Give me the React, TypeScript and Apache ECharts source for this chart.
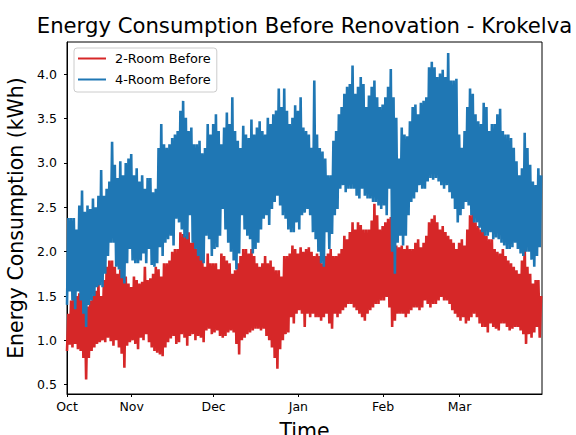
import React, { useEffect, useRef } from 'react';
import * as echarts from 'echarts';

const TITLE = 'Energy Consumption Before Renovation - Krokelva';
const SERIES_NAMES = ['2-Room Before', '4-Room Before'];
const MONTH_LABELS = ['Oct', 'Nov', 'Dec', 'Jan', 'Feb', 'Mar'];
const MONTH_TICKS = [
  Date.UTC(2022, 9, 8, 8),
  Date.UTC(2022, 10, 1),
  Date.UTC(2022, 11, 1),
  Date.UTC(2023, 0, 1),
  Date.UTC(2023, 1, 1),
  Date.UTC(2023, 2, 1),
];
const Y_TICKS = [0.5, 1.0, 1.5, 2.0, 2.5, 3.0, 3.5, 4.0];
const START = Date.UTC(2022, 9, 8, 8);
const X_MAX = Date.UTC(2023, 2, 31, 4);
const DAY = 86400000;

// Daily high / low readings, 2-Room (red)
const roomTwoHigh = [
  1.30, 1.45, 1.55, 1.50, 1.53, 1.48, 1.50, 1.38, 1.45, 1.50,
  1.56, 1.64, 1.50, 1.68, 1.83, 1.90, 1.90, 1.83, 1.75, 1.80,
  1.78, 1.72, 1.64, 1.60, 1.72, 1.68, 1.64, 1.66, 1.83, 1.68,
  1.70, 1.75, 1.83, 1.80, 1.72, 1.87, 1.87, 1.90, 2.00, 2.03,
  2.03, 2.22, 2.20, 2.18, 2.22, 2.10, 2.18, 2.03, 1.98, 1.95,
  1.83, 1.98, 1.87, 1.87, 1.87, 1.80, 1.98, 1.95, 1.90, 1.87,
  1.75, 1.79, 1.87, 1.95, 2.03, 2.03, 1.98, 2.03, 1.95, 1.87,
  1.83, 1.87, 1.95, 1.87, 1.90, 1.83, 1.79, 1.79, 1.72, 1.95,
  1.95, 1.98, 2.07, 2.03, 1.98, 2.05, 2.00, 2.03, 2.05, 2.00,
  1.95, 1.98, 1.95, 1.87, 1.95, 1.98, 2.03, 1.95, 1.95, 1.98,
  2.03, 2.18, 2.14, 2.22, 2.33, 2.25, 2.33, 2.30, 2.25, 2.25,
  2.25, 2.35, 2.54, 2.41, 2.25, 2.29, 2.33, 2.37, 2.39, 2.25,
  2.07, 2.05, 2.07, 2.03, 2.07, 2.03, 2.03, 2.10, 2.14, 2.05,
  2.10, 2.18, 2.33, 2.37, 2.41, 2.33, 2.25, 2.29, 2.22, 2.18,
  2.14, 2.10, 2.03, 2.10, 2.14, 2.07, 2.25, 2.41, 2.44, 2.33,
  2.29, 2.25, 2.25, 2.18, 2.14, 2.14, 2.03, 2.00, 1.98, 2.03,
  1.95, 1.90, 1.87, 1.83, 1.79, 1.75, 1.90, 2.10, 1.83, 1.75,
  1.64, 1.68, 1.68, 1.50,
];
const roomTwoLow = [
  0.88, 0.95, 0.92, 0.96, 0.90, 0.88, 0.80, 0.56, 0.80, 0.88,
  0.92, 0.96, 0.98, 1.00, 0.98, 1.03, 0.99, 0.94, 1.00, 0.92,
  0.85, 0.69, 0.94, 0.98, 1.00, 0.96, 0.90, 1.03, 1.00, 1.07,
  0.98, 0.92, 0.88, 0.86, 0.84, 0.82, 0.92, 0.98, 1.02, 1.05,
  0.96, 0.98, 1.07, 1.03, 0.94, 1.05, 1.07, 1.00, 1.05, 1.03,
  0.98, 1.11, 1.13, 1.07, 1.09, 1.11, 1.05, 1.03, 1.05, 1.09,
  1.11, 1.09, 0.96, 0.84, 1.00, 1.03, 1.07, 1.09, 1.11, 1.13,
  1.13, 1.11, 1.13, 1.05, 1.00, 0.92, 0.80, 0.68, 0.90, 1.00,
  1.07, 1.09, 1.26, 1.19, 1.30, 1.34, 1.30, 1.15, 1.30, 1.26,
  1.30, 1.26, 1.26, 1.22, 1.26, 1.30, 1.19, 1.13, 1.30, 1.26,
  1.30, 1.34, 1.37, 1.41, 1.41, 1.37, 1.34, 1.30, 1.26, 1.22,
  1.30, 1.34, 1.37, 1.41, 1.41, 1.45, 1.45, 1.49, 1.37, 1.15,
  1.22, 1.30, 1.30, 1.30, 1.26, 1.30, 1.34, 1.37, 1.37, 1.34,
  1.37, 1.45, 1.41, 1.37, 1.41, 1.41, 1.45, 1.49, 1.45, 1.45,
  1.41, 1.34, 1.30, 1.26, 1.22, 1.26, 1.19, 1.22, 1.26, 1.30,
  1.26, 1.19, 1.15, 1.15, 1.09, 1.19, 1.15, 1.13, 1.11, 1.19,
  1.19, 1.15, 1.11, 1.13, 1.15, 1.15, 1.11, 1.07, 0.96, 1.07,
  1.03, 1.09, 1.15, 1.03,
];

// Daily high / low readings, 4-Room (blue)
const roomFourHigh = [
  2.38, 2.38, 2.38, 2.25, 2.52, 2.69, 2.45, 2.52, 2.48, 2.60,
  2.50, 2.63, 2.92, 2.63, 2.71, 2.79, 3.24, 2.98, 2.83, 3.02,
  2.86, 3.00, 3.05, 3.10, 2.86, 2.94, 2.79, 2.86, 2.71, 2.83,
  2.83, 2.67, 2.71, 3.17, 3.44, 3.21, 3.17, 3.21, 3.28, 3.32,
  3.36, 3.59, 3.70, 3.51, 3.36, 3.40, 3.21, 3.21, 3.25, 3.11,
  3.17, 3.44, 3.32, 3.44, 3.55, 3.36, 3.21, 3.40, 3.57, 3.44,
  3.74, 3.36, 3.25, 3.17, 3.42, 3.32, 3.28, 3.49, 3.32, 3.40,
  3.47, 3.36, 3.32, 3.51, 3.44, 3.55, 3.59, 3.84, 3.63, 3.84,
  3.59, 3.44, 3.51, 3.65, 3.59, 3.74, 3.40, 3.36, 3.32, 3.17,
  3.93, 3.32, 3.17, 3.13, 3.05, 2.86, 2.86, 3.25, 3.36, 3.55,
  3.63, 3.78, 3.86, 3.89, 4.10, 3.78, 3.86, 3.97, 3.89, 3.63,
  3.76, 3.86, 3.93, 3.74, 3.63, 3.66, 3.74, 3.86, 4.06, 3.74,
  3.51, 3.05, 3.40, 3.32, 3.30, 3.47, 3.63, 3.66, 3.55, 3.68,
  3.70, 3.74, 4.08, 4.14, 4.08, 3.97, 4.01, 4.05, 3.97, 4.24,
  3.93, 3.93, 3.95, 3.32, 3.17, 3.36, 3.63, 3.84, 3.78, 3.55,
  3.47, 3.44, 3.68, 3.63, 3.36, 3.44, 3.44, 3.55, 3.61, 3.36,
  3.32, 3.32, 3.28, 3.17, 3.02, 2.86, 2.94, 3.34, 3.17, 2.98,
  2.79, 2.75, 2.94, 2.86,
];
const roomFourLow = [
  1.40, 1.55, 1.45, 1.35, 1.55, 1.45, 1.30, 1.15, 1.40, 1.45,
  1.50, 1.60, 1.62, 1.60, 1.75, 1.95, 2.10, 2.10, 1.83, 1.80,
  1.70, 1.64, 1.87, 2.03, 1.90, 1.87, 1.87, 1.90, 1.98, 1.87,
  2.03, 1.85, 1.83, 1.87, 2.05, 1.95, 2.10, 2.14, 2.18, 2.07,
  2.37, 2.33, 2.25, 2.16, 2.14, 2.41, 2.10, 2.03, 1.95, 1.90,
  1.87, 2.18, 2.14, 1.95, 2.03, 2.05, 2.18, 2.48, 2.25, 2.10,
  2.00, 1.90, 1.80, 1.98, 2.41, 2.25, 2.18, 2.14, 1.98, 2.03,
  2.10, 2.25, 2.37, 2.41, 2.30, 2.48, 2.56, 2.63, 2.52, 2.41,
  2.37, 2.25, 2.22, 2.22, 2.33, 2.25, 2.41, 2.44, 2.48, 2.41,
  2.22, 2.14, 2.00, 1.87, 1.83, 2.22, 2.03, 2.20, 2.41, 2.48,
  2.71, 2.75, 2.67, 2.71, 2.71, 2.71, 2.63, 2.60, 2.71, 2.63,
  2.60, 2.60, 2.56, 2.56, 2.52, 2.48, 2.52, 2.41, 2.71, 2.00,
  1.75, 2.10, 2.18, 2.07, 2.18, 2.41, 2.56, 2.60, 2.67, 2.75,
  2.71, 2.71, 2.79, 2.83, 2.81, 2.83, 2.79, 2.75, 2.71, 2.75,
  2.67, 2.60, 2.48, 2.33, 2.41, 2.48, 2.56, 2.52, 2.41, 2.33,
  2.33, 2.27, 2.22, 2.18, 2.18, 2.22, 2.14, 2.16, 2.14, 2.10,
  2.07, 2.03, 2.03, 2.05, 2.10, 2.03, 1.98, 1.95, 2.00, 2.00,
  1.91, 1.83, 1.95, 2.05,
];

const buildSeries = (low: number[], high: number[]) =>
  low.flatMap((l, i) => [
    [START + i * DAY, l],
    [START + (i + 0.5) * DAY, high[i]],
  ]);

const monthLabel = (v: number) => {
  const idx = MONTH_TICKS.findIndex((t) => Math.abs(t - v) < 60000);
  return idx >= 0 ? MONTH_LABELS[idx] : '';
};

const FONT = 'DejaVu Sans';

export default function App() {
  const ref = useRef<HTMLDivElement>(null);
  useEffect(() => {
    const chart = echarts.init(ref.current!, null, { renderer: 'svg' });
    chart.setOption({
      animation: false,
      backgroundColor: '#ffffff',
      textStyle: { fontFamily: FONT },
      graphic: [
        {
          type: 'text',
          x: 304.5,
          y: 25.5,
          style: {
            text: TITLE,
            fontSize: 21.2,
            fontFamily: FONT,
            fill: '#000',
            align: 'center',
            verticalAlign: 'middle',
          },
        },
      ],
      legend: {
        orient: 'vertical',
        left: 74,
        top: 48,
        padding: [3, 6, 5, 4],
        itemGap: 6,
        itemWidth: 28,
        itemHeight: 2,
        icon: 'rect',
        borderColor: '#cccccc',
        borderWidth: 1,
        borderRadius: 3,
        backgroundColor: 'rgba(255,255,255,0.8)',
        formatter: (name: string) => '{t|' + name + '}',
        textStyle: {
          fontSize: 12.9,
          color: '#000',
          fontFamily: FONT,
          lineHeight: 15,
          rich: {
            t: { fontSize: 12.9, color: '#000', fontFamily: FONT, lineHeight: 15, padding: [0, 0, 0, 4] },
          },
        },
        data: SERIES_NAMES,
      },
      grid: {
        left: 67,
        right: 34,
        top: 42,
        bottom: 41,
        outerBoundsMode: 'none',
        containLabel: false,
        show: true,
        borderColor: '#000',
        borderWidth: 1,
        backgroundColor: 'transparent',
      },
      xAxis: {
        type: 'value',
        min: START,
        max: X_MAX,
        name: 'Time',
        nameLocation: 'middle',
        nameGap: 26,
        nameTextStyle: { fontSize: 20.5, color: '#000', fontFamily: FONT },
        axisLine: { show: true, onZero: false, lineStyle: { color: '#000', width: 1 } },
        axisTick: { show: true, length: 3, customValues: MONTH_TICKS, lineStyle: { color: '#000', width: 1 } },
        axisLabel: {
          customValues: MONTH_TICKS,
          formatter: (v: number) => monthLabel(v),
          margin: 6,
          fontSize: 12.5,
          color: '#000',
          fontFamily: FONT,
        },
        splitLine: { show: false },
      },
      yAxis: {
        type: 'value',
        min: 0.395,
        max: 4.364,
        name: 'Energy Consumption (kWh)',
        nameLocation: 'middle',
        nameGap: 41,
        nameTextStyle: { fontSize: 20.5, color: '#000', fontFamily: FONT },
        axisLine: { show: true, onZero: false, lineStyle: { color: '#000', width: 1 } },
        axisTick: { show: true, length: 3, customValues: Y_TICKS, lineStyle: { color: '#000', width: 1 } },
        axisLabel: {
          customValues: Y_TICKS,
          formatter: (v: number) => v.toFixed(1),
          margin: 10,
          fontSize: 12.5,
          color: '#000',
          fontFamily: FONT,
        },
        splitLine: { show: false },
      },
      series: [
        {
          type: 'line',
          name: SERIES_NAMES[0],
          data: buildSeries(roomTwoLow, roomTwoHigh),
          symbol: 'none',
          showSymbol: false,
          color: '#d62728',
          itemStyle: { color: '#d62728' },
          lineStyle: { color: '#d62728', width: 2.6 },
        },
        {
          type: 'line',
          name: SERIES_NAMES[1],
          data: buildSeries(roomFourLow, roomFourHigh),
          symbol: 'none',
          showSymbol: false,
          color: '#1f77b4',
          itemStyle: { color: '#1f77b4' },
          lineStyle: { color: '#1f77b4', width: 2.6 },
        },
      ],
    });
    return () => chart.dispose();
  }, []);
  return (
    <div
      ref={ref}
      style={{ position: 'fixed', left: 0, top: 0, width: 576, height: 435, background: '#fff' }}
    />
  );
}
